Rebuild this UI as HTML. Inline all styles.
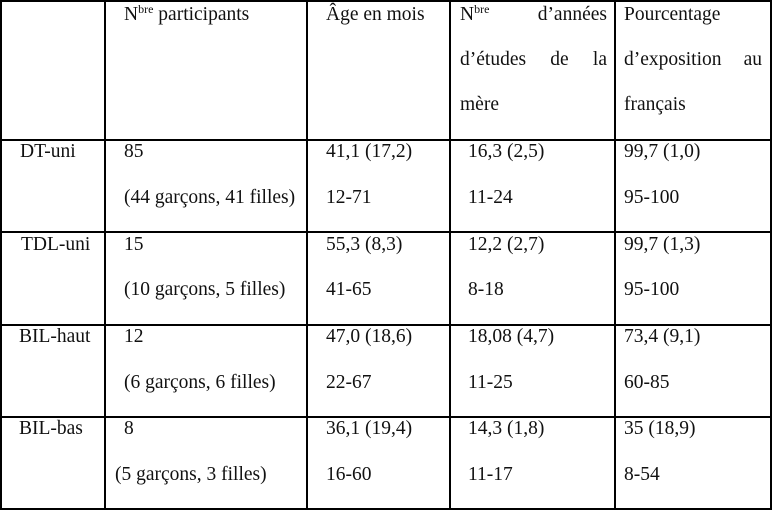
<!DOCTYPE html>
<html><head><meta charset="utf-8"><style>
html,body{margin:0;padding:0;background:#fff;}
#t{position:relative;width:772px;height:511px;overflow:hidden;font-family:"Liberation Serif",serif;font-size:19.5px;color:#111;}
.h{position:absolute;background:#000;height:1.5px;}
.v{position:absolute;background:#000;width:1.5px;}
.c{position:absolute;line-height:24px;white-space:nowrap;}
.j{text-align:justify;text-align-last:justify;white-space:normal;}
sup{font-size:12px;vertical-align:0;position:relative;top:-7px;}
</style></head><body>
<div id="t">
<div class="h" style="left:0;top:0;width:772px"></div>
<div class="h" style="left:0;top:139px;width:772px"></div>
<div class="h" style="left:0;top:231px;width:772px"></div>
<div class="h" style="left:0;top:324px;width:772px"></div>
<div class="h" style="left:0;top:416px;width:772px"></div>
<div class="h" style="left:0;top:508px;width:772px"></div>
<div class="v" style="left:0;top:0;height:510px"></div>
<div class="v" style="left:104px;top:0;height:510px"></div>
<div class="v" style="left:306px;top:0;height:510px"></div>
<div class="v" style="left:449px;top:0;height:510px"></div>
<div class="v" style="left:614px;top:0;height:510px"></div>
<div class="v" style="left:770px;top:0;height:510px"></div>

<div class="c" style="left:124px;top:3px">N<sup>bre</sup> participants</div>
<div class="c" style="left:326px;top:3px">Âge en mois</div>
<div class="c j" style="left:460px;top:3px;width:147px">N<sup>bre</sup> d’années</div>
<div class="c j" style="left:460px;top:48px;width:147px">d’études de la</div>
<div class="c" style="left:460px;top:93px">mère</div>
<div class="c" style="left:624px;top:3px">Pourcentage</div>
<div class="c j" style="left:624px;top:48px;width:138px">d’exposition au</div>
<div class="c" style="left:624px;top:93px">français</div>

<div class="c" style="left:20px;top:140px">DT-uni</div>
<div class="c" style="left:124px;top:140px">85</div>
<div class="c" style="left:124px;top:186px">(44 garçons, 41 filles)</div>
<div class="c" style="left:326px;top:140px">41,1 (17,2)</div>
<div class="c" style="left:326px;top:186px">12-71</div>
<div class="c" style="left:468px;top:140px">16,3 (2,5)</div>
<div class="c" style="left:468px;top:186px">11-24</div>
<div class="c" style="left:624px;top:140px">99,7 (1,0)</div>
<div class="c" style="left:624px;top:186px">95-100</div>

<div class="c" style="left:21px;top:233px">TDL-uni</div>
<div class="c" style="left:124px;top:233px">15</div>
<div class="c" style="left:124px;top:278px">(10 garçons, 5 filles)</div>
<div class="c" style="left:326px;top:233px">55,3 (8,3)</div>
<div class="c" style="left:326px;top:278px">41-65</div>
<div class="c" style="left:468px;top:233px">12,2 (2,7)</div>
<div class="c" style="left:468px;top:278px">8-18</div>
<div class="c" style="left:624px;top:233px">99,7 (1,3)</div>
<div class="c" style="left:624px;top:278px">95-100</div>

<div class="c" style="left:19px;top:325px">BIL-haut</div>
<div class="c" style="left:124px;top:325px">12</div>
<div class="c" style="left:124px;top:371px">(6 garçons, 6 filles)</div>
<div class="c" style="left:326px;top:325px">47,0 (18,6)</div>
<div class="c" style="left:326px;top:371px">22-67</div>
<div class="c" style="left:468px;top:325px">18,08 (4,7)</div>
<div class="c" style="left:468px;top:371px">11-25</div>
<div class="c" style="left:624px;top:325px">73,4 (9,1)</div>
<div class="c" style="left:624px;top:371px">60-85</div>

<div class="c" style="left:19px;top:417px">BIL-bas</div>
<div class="c" style="left:124px;top:417px">8</div>
<div class="c" style="left:115px;top:463px">(5 garçons, 3 filles)</div>
<div class="c" style="left:326px;top:417px">36,1 (19,4)</div>
<div class="c" style="left:326px;top:463px">16-60</div>
<div class="c" style="left:468px;top:417px">14,3 (1,8)</div>
<div class="c" style="left:468px;top:463px">11-17</div>
<div class="c" style="left:624px;top:417px">35 (18,9)</div>
<div class="c" style="left:624px;top:463px">8-54</div>
</div>
</body></html>
